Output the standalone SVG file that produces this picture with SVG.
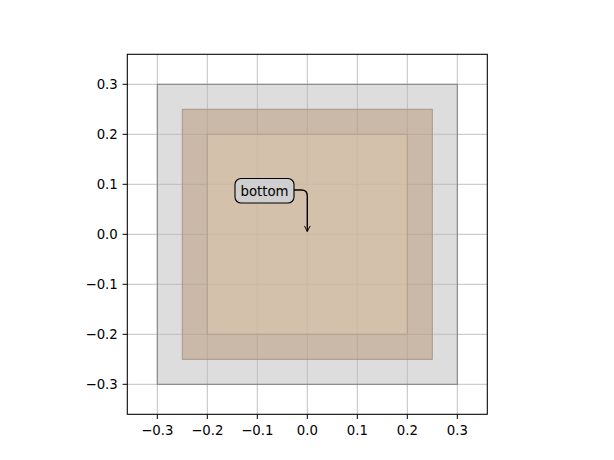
<svg xmlns="http://www.w3.org/2000/svg" width="614" height="460" viewBox="0 0 614 460">
<style>
.grid line{stroke:#b0b0b0;stroke-width:0.8}
.tick line{stroke:#000;stroke-width:1}
.tl{font-family:"DejaVu Sans",sans-serif;font-size:13.3px;fill:#000}
.xl{text-anchor:middle}
.yl{text-anchor:end}
</style>
<defs>
<marker id="ah" viewBox="0 0 10 10" refX="9" refY="5" markerWidth="7" markerHeight="7" markerUnits="userSpaceOnUse" orient="auto">
<path d="M1,1 L9,5 L1,9" fill="none" stroke="#000" stroke-width="1.4"/>
</marker>
</defs>
<rect width="614" height="460" fill="#fff"/>
<g class="grid">
<line x1="157.3" y1="54.3" x2="157.3" y2="414.3"/>
<line x1="207.3" y1="54.3" x2="207.3" y2="414.3"/>
<line x1="257.3" y1="54.3" x2="257.3" y2="414.3"/>
<line x1="307.3" y1="54.3" x2="307.3" y2="414.3"/>
<line x1="357.3" y1="54.3" x2="357.3" y2="414.3"/>
<line x1="407.3" y1="54.3" x2="407.3" y2="414.3"/>
<line x1="457.3" y1="54.3" x2="457.3" y2="414.3"/>
<line x1="127.3" y1="84.3" x2="487.3" y2="84.3"/>
<line x1="127.3" y1="134.3" x2="487.3" y2="134.3"/>
<line x1="127.3" y1="184.3" x2="487.3" y2="184.3"/>
<line x1="127.3" y1="234.3" x2="487.3" y2="234.3"/>
<line x1="127.3" y1="284.3" x2="487.3" y2="284.3"/>
<line x1="127.3" y1="334.3" x2="487.3" y2="334.3"/>
<line x1="127.3" y1="384.3" x2="487.3" y2="384.3"/>
</g>
<g id="outer-square"><rect x="157.3" y="84.3" width="300" height="300" fill="#bbbbbb" fill-opacity="0.5" stroke="#808080" stroke-width="1"/></g>
<g id="middle-square"><rect x="182.3" y="109.3" width="250" height="250" fill="#b79373" fill-opacity="0.5" stroke="#a89786" stroke-width="1"/></g>
<g id="inner-square"><rect x="207.3" y="134.3" width="200" height="200" fill="#dccaae" fill-opacity="0.5" stroke="#b2a08e" stroke-width="1"/></g>
<rect x="127.3" y="54.3" width="360" height="360" fill="none" stroke="#000" stroke-width="1.07"/>
<g class="tick">
<line x1="157.3" y1="414.3" x2="157.3" y2="419"/>
<line x1="207.3" y1="414.3" x2="207.3" y2="419"/>
<line x1="257.3" y1="414.3" x2="257.3" y2="419"/>
<line x1="307.3" y1="414.3" x2="307.3" y2="419"/>
<line x1="357.3" y1="414.3" x2="357.3" y2="419"/>
<line x1="407.3" y1="414.3" x2="407.3" y2="419"/>
<line x1="457.3" y1="414.3" x2="457.3" y2="419"/>
<line x1="122.6" y1="84.3" x2="127.3" y2="84.3"/>
<line x1="122.6" y1="134.3" x2="127.3" y2="134.3"/>
<line x1="122.6" y1="184.3" x2="127.3" y2="184.3"/>
<line x1="122.6" y1="234.3" x2="127.3" y2="234.3"/>
<line x1="122.6" y1="284.3" x2="127.3" y2="284.3"/>
<line x1="122.6" y1="334.3" x2="127.3" y2="334.3"/>
<line x1="122.6" y1="384.3" x2="127.3" y2="384.3"/>
</g>
<g class="tl xl">
<text x="157.3" y="435">−0.3</text>
<text x="207.3" y="435">−0.2</text>
<text x="257.3" y="435">−0.1</text>
<text x="307.3" y="435">0.0</text>
<text x="357.3" y="435">0.1</text>
<text x="407.3" y="435">0.2</text>
<text x="457.3" y="435">0.3</text>
</g>
<g class="tl yl">
<text x="117.8" y="89.1">0.3</text>
<text x="117.8" y="139.1">0.2</text>
<text x="117.8" y="189.1">0.1</text>
<text x="117.8" y="239.1">0.0</text>
<text x="117.8" y="289.1">−0.1</text>
<text x="117.8" y="339.1">−0.2</text>
<text x="117.8" y="389.1">−0.3</text>
</g>
<g id="connectors">
<path d="M294,190 H301.5 Q307.3,190 307.3,196 V231.5" fill="none" stroke="#000" stroke-width="1.4" marker-end="url(#ah)"/>
</g>
<g id="bottom-label">
<rect x="235" y="178.5" width="59" height="24.5" rx="6" ry="6" fill="#cfcfcf" stroke="#000" stroke-width="1.1"/>
<text class="tl" x="264.5" y="195.5" text-anchor="middle">bottom</text>
</g>
</svg>
